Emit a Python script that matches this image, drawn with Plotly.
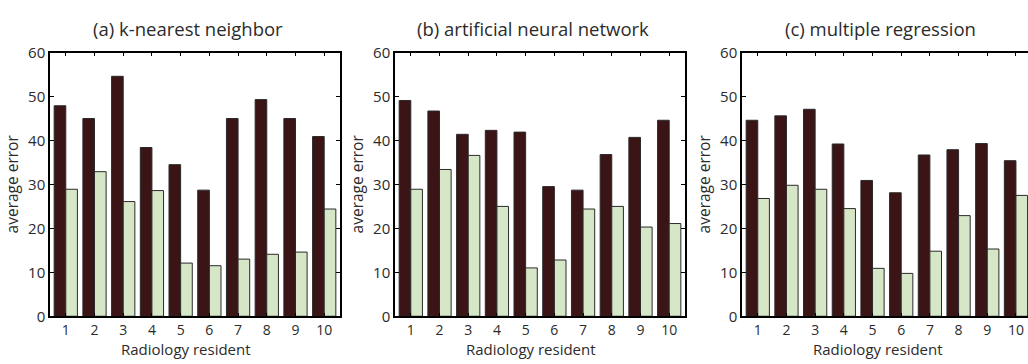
import plotly.graph_objects as go

residents = [1, 2, 3, 4, 5, 6, 7, 8, 9, 10]
tick_labels = ["1", "2", "3", "4", "5", "6", "7", "8", "9", "10"]
panel_titles = ["(a) k-nearest neighbor", "(b) artificial neural network", "(c) multiple regression"]

knn_dark = [47.9, 45.0, 54.6, 38.4, 34.5, 28.7, 45.0, 49.3, 45.0, 40.9]
knn_light = [28.9, 32.9, 26.1, 28.6, 12.1, 11.5, 13.0, 14.1, 14.6, 24.4]
ann_dark = [49.1, 46.7, 41.4, 42.3, 41.9, 29.5, 28.7, 36.8, 40.7, 44.6]
ann_light = [28.9, 33.4, 36.6, 25.0, 11.0, 12.8, 24.4, 25.0, 20.3, 21.1]
mr_dark = [44.6, 45.6, 47.1, 39.2, 30.9, 28.1, 36.7, 37.9, 39.3, 35.4]
mr_light = [26.8, 29.8, 28.9, 24.5, 10.9, 9.75, 14.8, 22.9, 15.3, 27.5]

W, H = 1028, 364
DARK = "#3b1416"
LIGHT = "#d6e7c8"
EDGE = "#2a2a2a"
TXT = "#2b2b2b"
FONT = "Open Sans"

panels = [
    (knn_dark, knn_light, 50, 340, [0.45, 10.55]),
    (ann_dark, ann_light, 395, 685, [0.45, 10.55]),
    (mr_dark, mr_light, 742, 1028, [0.45, 10.42]),
]
y_top, y_bot = 44, 323

fig = go.Figure()
layout = dict(
    width=W, height=H, margin=dict(l=0, r=0, t=0, b=0),
    paper_bgcolor="white", plot_bgcolor="white",
    barmode="group", bargap=0.19, bargroupgap=0.0,
    showlegend=False, font=dict(family=FONT, color=TXT, size=15),
)
annotations = []
for i, (dk, lt, x0, x1, rng) in enumerate(panels):
    n = "" if i == 0 else str(i + 1)
    xa, ya = "x" + n, "y" + n
    fig.add_trace(go.Bar(x=residents, y=dk, xaxis=xa, yaxis=ya, marker=dict(color=DARK, line=dict(color=EDGE, width=1))))
    fig.add_trace(go.Bar(x=residents, y=lt, xaxis=xa, yaxis=ya, marker=dict(color=LIGHT, line=dict(color=EDGE, width=1))))
    layout["xaxis" + n] = dict(
        domain=[x0 / W, x1 / W], anchor=ya, range=rng,
        tickvals=residents, ticktext=tick_labels, ticks="inside", ticklen=4,
        tickcolor="#000", showline=True, linecolor="#000", linewidth=1.5,
        mirror="allticks", showgrid=False, zeroline=False, ticklabelstandoff=0,
        tickfont=dict(size=14, family=FONT, color=TXT),
    )
    layout["yaxis" + n] = dict(
        domain=[1 - y_bot / H, 1 - y_top / H], anchor=xa, range=[0, 60],
        tickvals=[0, 10, 20, 30, 40, 50, 60], ticks="inside", ticklen=4,
        tickcolor="#000", showline=True, linecolor="#000", linewidth=1.5,
        mirror=("allticks" if i < 2 else False), showgrid=False, zeroline=False,
        tickfont=dict(size=15, family=FONT, color=TXT),
    )
    cx = (x0 + (x0 + 290)) / 2 - 7
    annotations.append(dict(text=panel_titles[i], x=cx / W, y=1 - 18 / H, xref="paper", yref="paper",
                            showarrow=False, xanchor="center", yanchor="middle", font=dict(size=18.5, family=FONT, color=TXT)))
    annotations.append(dict(text="Radiology resident", x=(cx - 2) / W, y=1 - 353 / H, xref="paper", yref="paper",
                            showarrow=False, xanchor="center", yanchor="middle", borderpad=0, yshift=-4,
                            font=dict(size=15, family=FONT, color=TXT)))
    annotations.append(dict(text="average error", x=(x0 - 38) / W, y=1 - 183.5 / H, xref="paper", yref="paper",
                            showarrow=False, xanchor="center", yanchor="middle", textangle=-90, font=dict(size=15.5, family=FONT, color=TXT)))
layout["annotations"] = annotations
fig.update_layout(**layout)
fig.write_html("out.html")
